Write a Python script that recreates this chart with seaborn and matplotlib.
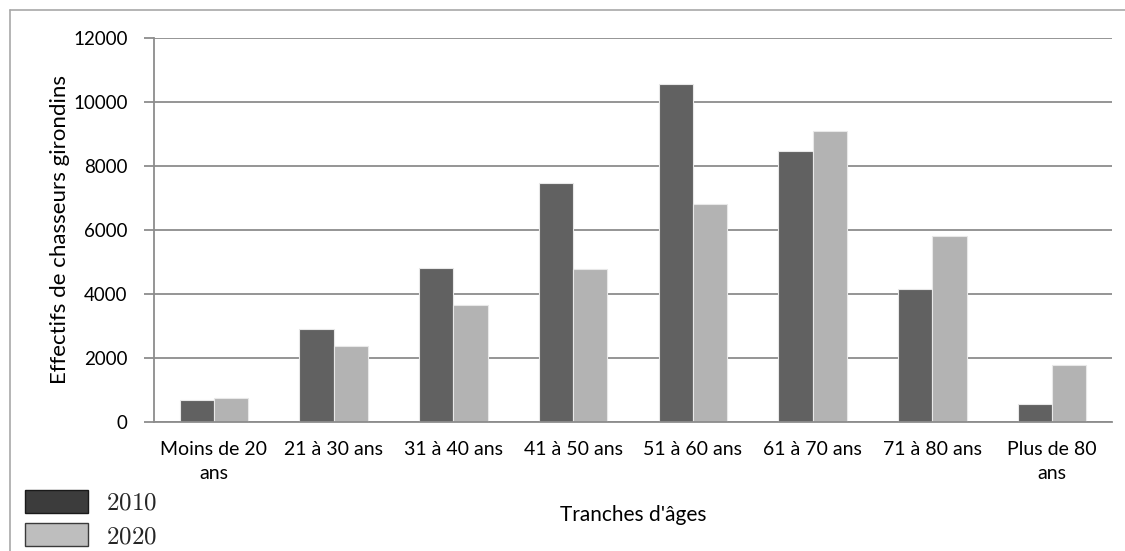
import pandas as pd
import numpy as np
import matplotlib.pyplot as plt
import seaborn as sns
from matplotlib.patches import Patch
from matplotlib.lines import Line2D

tranches = ['Moins de 20\nans', '21 à 30 ans', '31 à 40 ans', '41 à 50 ans',
            '51 à 60 ans', '61 à 70 ans', '71 à 80 ans', 'Plus de 80\nans']
effectifs_2010 = [700, 2900, 4800, 7480, 10550, 8480, 4160, 560]
effectifs_2020 = [740, 2390, 3650, 4770, 6800, 9080, 5820, 1770]
annees = ['2010', '2020']

df = pd.DataFrame({'tranche': tranches * 2,
                   'annee': [annees[0]] * len(tranches) + [annees[1]] * len(tranches),
                   'effectif': effectifs_2010 + effectifs_2020})

sns.set_style("white")
plt.rcParams['font.family'] = ['Lato', 'DejaVu Sans']
plt.rcParams['mathtext.fontset'] = 'cm'

fig = plt.figure(figsize=(11.25, 5.51), dpi=100)
ax = fig.add_axes([154 / 1125, 129 / 551, 958 / 1125, 384 / 551])

pal = {'2010': '#616161', '2020': '#b3b3b3'}
sns.barplot(data=df, x='tranche', y='effectif', hue='annee', palette=pal,
            width=0.57, ax=ax, edgecolor='#e8e8e8', linewidth=0.8,
            saturation=1, legend=False)

ax.set_ylim(0, 12000)
ax.set_xlim(-0.5, 7.5)
ax.set_yticks(range(0, 12001, 2000))
ax.yaxis.grid(True, color='#8c8c8c', linewidth=1.3)
ax.set_axisbelow(True)
for s in ['top', 'right']:
    ax.spines[s].set_visible(False)
for s in ['left', 'bottom']:
    ax.spines[s].set_color('#8c8c8c')
    ax.spines[s].set_linewidth(1.3)

ax.set_xticks(np.arange(8))
ax.set_xticklabels(tranches, fontsize=14, color='black', linespacing=1.45)
ax.set_xticks(np.arange(-0.5, 8, 1), minor=True)
ax.tick_params(axis='x', which='major', length=0, pad=14)
ax.tick_params(axis='x', which='minor', length=6, width=1.3, color='#8c8c8c', direction='out')
ax.tick_params(axis='y', length=7, width=1.3, color='#8c8c8c', labelsize=13.5,
               labelcolor='black', left=True, pad=12)

ax.set_xlabel("Tranches d'âges", fontsize=15, color='black')
ax.xaxis.set_label_coords(0.5, -0.215)
ax.set_ylabel("Effectifs de chasseurs girondins", fontsize=16, color='black')
ax.yaxis.set_label_coords(-0.088, 0.5)

handles = [Patch(facecolor='#3c3c3c', edgecolor='#1a1a1a', linewidth=1),
           Patch(facecolor='#bebebe', edgecolor='#3a3a3a', linewidth=1)]
fig.legend(handles, [r'$\mathrm{2010}$', r'$\mathrm{2020}$'], loc='lower left',
           bbox_to_anchor=(25 / 1125, 4 / 551), borderaxespad=0, borderpad=0,
           frameon=False, fontsize=18, handlelength=2.5, handleheight=1.04,
           labelspacing=0.36, handletextpad=0.75)

# cadre gris du graphique (haut et gauche)
fig.add_artist(Line2D([10 / 1125, 1], [1 - 10 / 551, 1 - 10 / 551],
                      transform=fig.transFigure, color='#a8a8a8', linewidth=1.2))
fig.add_artist(Line2D([10 / 1125, 10 / 1125], [0, 1 - 10 / 551],
                      transform=fig.transFigure, color='#a8a8a8', linewidth=1.2))

plt.savefig('out.png', dpi=100)
